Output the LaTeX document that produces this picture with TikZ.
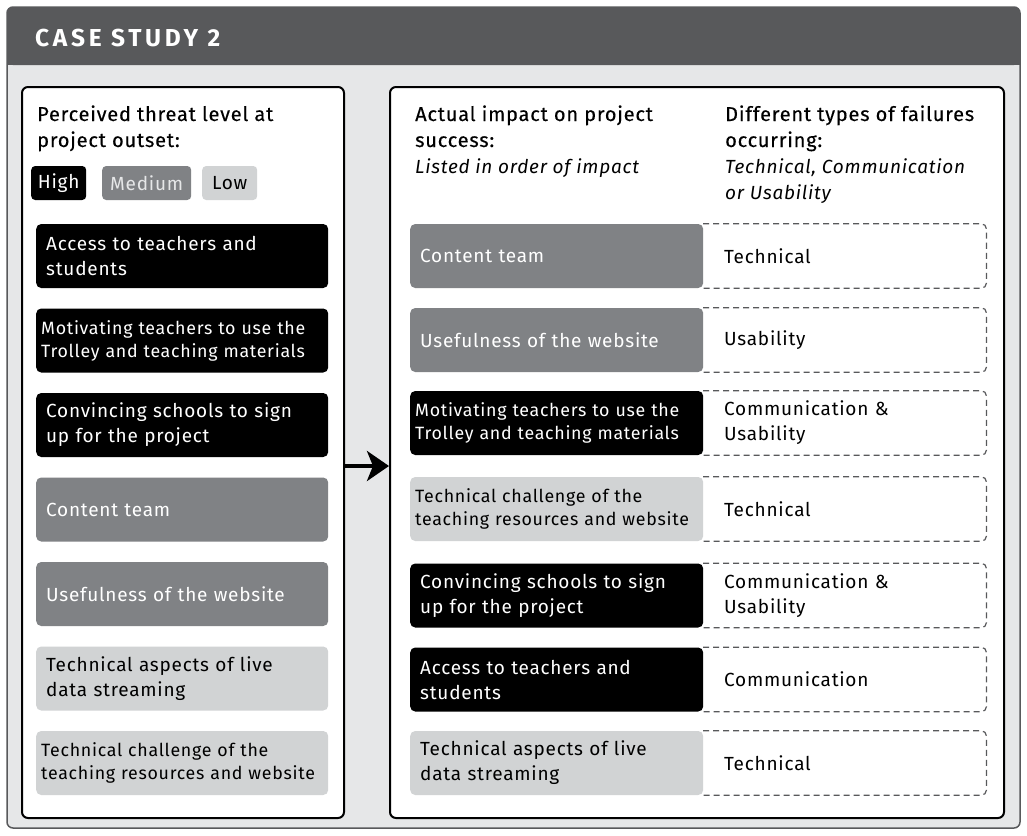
\documentclass[tikz,border=0pt]{standalone}
\usepackage{fontspec}
\setmainfont{Fira Sans}[LetterSpace=4]
\newfontfamily\medfont{Fira Sans}[FakeBold=0.3, LetterSpace=4]
\newfontfamily\titlefont{Fira Sans}[LetterSpace=15]
\usetikzlibrary{arrows.meta}
\definecolor{dgray}{HTML}{58595B}
\definecolor{bggray}{HTML}{E6E7E8}
\definecolor{midgray}{HTML}{808285}
\definecolor{ltgray}{HTML}{D1D3D4}
\begin{document}
\begin{tikzpicture}[x=1pt,y=-1pt,
  box/.style={anchor=west, rounded corners=5pt, minimum height=64pt, inner ysep=0pt, inner xsep=10pt, align=left, font=\fontsize{19}{25}\selectfont},
  lbox/.style={box, text width=272pt},
  rbox/.style={box, text width=273pt},
  smalltxt/.style={inner xsep=5pt, font=\fontsize{17.8}{23}\selectfont},
  hi/.style={fill=black, text=white},
  med/.style={fill=midgray, text=white},
  lo/.style={fill=ltgray, text=black},
  dbox/.style={anchor=west, minimum width=283pt, minimum height=64pt, inner xsep=21pt, inner ysep=0pt, text width=241pt, align=left, font=\fontsize{19}{25}\selectfont},
  dashline/.style={draw=dgray, line width=1.2pt, dash pattern=on 6pt off 4pt, rounded corners=5pt},
  panel/.style={draw=black, line width=2pt, fill=white, rounded corners=6pt},
  head/.style={anchor=base west, inner sep=0pt, align=left, font=\medfont\fontsize{20}{26}\selectfont},
  sub/.style={anchor=base west, inner sep=0pt, align=left, font=\itshape\fontsize{19}{26}\selectfont},
  legend/.style={anchor=west, rounded corners=4pt, minimum height=34pt, inner xsep=3pt, font=\fontsize{19}{25}\selectfont}
]
\useasboundingbox (0,0) rectangle (1027,835);
% outer frame
\fill[bggray, rounded corners=6pt] (7,7) rectangle (1020,828);
\fill[dgray, rounded corners=6pt] (7,7) rectangle (1020,65);
\fill[dgray] (7,40) rectangle (1020,65);
\draw[dgray, line width=1.5pt, rounded corners=6pt] (7,7) rectangle (1020,828);
\node[anchor=base west, inner sep=0pt, text=white, font=\titlefont\bfseries\fontsize{24.5}{28}\selectfont] (title) at (35,46) {CASE STUDY 2};

% panels
\node[panel, minimum width=322pt, minimum height=731pt] (lp) at (183,452.5) {};
\node[panel, minimum width=614pt, minimum height=731pt] (rp) at (697,452.5) {};

% left header
\node[head] (lh) at (37,147) {Perceived threat level at\\project outset:};
\node[legend, hi, minimum width=55pt] (lhigh) at (31,183) {High};
\node[legend, med, text=bggray, minimum width=89pt] (lmed) at (102,183) {Medium};
\node[legend, lo, minimum width=55pt] (llow) at (202,183) {Low};

% left boxes
\node[lbox, hi] (L1) at (36,256) {Access to teachers and\\students};
\node[lbox, hi, smalltxt, text width=282pt] (L2) at (36,340.5) {Motivating teachers to use the\\Trolley and teaching materials};
\node[lbox, hi] (L3) at (36,425) {Convincing schools to sign\\up for the project};
\node[lbox, med] (L4) at (36,509.5) {Content team};
\node[lbox, med] (L5) at (36,594) {Usefulness of the website};
\node[lbox, lo] (L6) at (36,678.5) {Technical aspects of live\\data streaming};
\node[lbox, lo, smalltxt, text width=282pt] (L7) at (36,763) {Technical challenge of the\\teaching resources and website};

% right header
\node[head] (rh1) at (415,147) {Actual impact on project\\success:};
\node[sub] (rs1) at (415,173) {Listed in order of impact};
\node[head] (rh2) at (725,147) {Different types of failures\\occurring:};
\node[sub] (rs2) at (725,199) {Technical, Communication\\or Usability};

% dashed boxes
\foreach \n/\y/\t in {1/256/Technical, 2/340/Usability, 3/423/{Communication \&\\Usability}, 4/509/Technical, 5/595.5/{Communication \&\\Usability}, 6/679.5/Communication, 7/763/Technical}{
  \node[dbox] (D\n) at (703,\y) {\t};
  \draw[dashline] (D\n.north west) -- (D\n.north east) -- (D\n.south east) -- (D\n.south west);
}

% right boxes
\node[rbox, med] (R1) at (410,256) {Content team};
\node[rbox, med] (R2) at (410,340) {Usefulness of the website};
\node[rbox, hi, smalltxt, text width=283pt] (R3) at (410,423) {Motivating teachers to use the\\Trolley and teaching materials};
\node[rbox, lo, smalltxt, text width=283pt] (R4) at (410,509) {Technical challenge of the\\teaching resources and website};
\node[rbox, hi] (R5) at (410,595.5) {Convincing schools to sign\\up for the project};
\node[rbox, hi] (R6) at (410,679.5) {Access to teachers and\\students};
\node[rbox, lo] (R7) at (410,763) {Technical aspects of live\\data streaming};

% arrow
\coordinate (a1) at (lp.east |- 0,466);
\coordinate (a2) at (rp.west |- 0,466);
\draw[line width=4pt, -{Stealth[length=22pt, width=30pt, inset=6pt]}] (a1) -- (a2);
\end{tikzpicture}
\end{document}
